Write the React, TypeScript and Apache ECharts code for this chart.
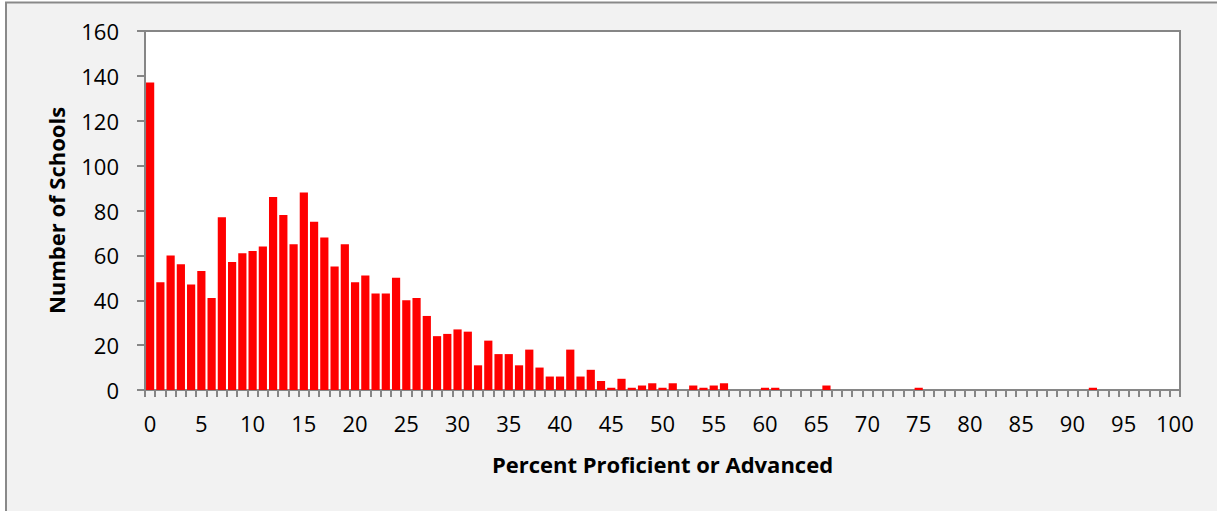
import React, { useEffect, useRef } from "react";
import * as echarts from "echarts";

const categories: string[] = Array.from({ length: 101 }, (_, i) => String(i));

const schoolCounts: number[] = [
  137, 48, 60, 56, 47, 53, 41, 77, 57, 61,
  62, 64, 86, 78, 65, 88, 75, 68, 55, 65,
  48, 51, 43, 43, 50, 40, 41, 33, 24, 25,
  27, 26, 11, 22, 16, 16, 11, 18, 10, 6,
  6, 18, 6, 9, 4, 1, 5, 1, 2, 3,
  1, 3, 0, 2, 1, 2, 3, 0, 0, 0,
  1, 1, 0, 0, 0, 0, 2, 0, 0, 0,
  0, 0, 0, 0, 0, 1, 0, 0, 0, 0,
  0, 0, 0, 0, 0, 0, 0, 0, 0, 0,
  0, 0, 1, 0, 0, 0, 0, 0, 0, 0,
  0,
];

const yMin = 0;
const yMax = 160;
const yStep = 20;

const xTitle = "Percent Proficient or Advanced";
const yTitle = "Number of Schools";

const FONT = "'Open Sans', 'Noto Sans', sans-serif";
const AXIS_GRAY = "#868686";

export default function App() {
  const ref = useRef<HTMLDivElement>(null);

  useEffect(() => {
    if (!ref.current) return;
    const chart = echarts.init(ref.current, undefined, { renderer: "svg" });
    chart.setOption({
      animation: false,
      backgroundColor: "#ffffff",
      textStyle: { fontFamily: FONT },
      graphic: [
        {
          type: "rect",
          z: -100,
          silent: true,
          shape: { x: 6, y: 2.5, width: 1300, height: 600 },
          style: { fill: "#f2f2f2", stroke: "#898989", lineWidth: 2 },
        },
      ],
      grid: {
        left: 145,
        right: 37,
        top: 31,
        bottom: 121,
        show: true,
        backgroundColor: "#ffffff",
        borderColor: AXIS_GRAY,
        borderWidth: 2,
        z: 0,
      },
      xAxis: {
        type: "category",
        data: categories,
        boundaryGap: true,
        name: xTitle,
        nameLocation: "middle",
        nameGap: 63,
        nameTextStyle: {
          fontFamily: FONT,
          fontWeight: "bold",
          fontSize: 22,
          color: "#000000",
        },
        axisLine: { show: true, lineStyle: { color: AXIS_GRAY, width: 2 } },
        axisTick: {
          show: true,
          interval: 0,
          alignWithLabel: false,
          length: 7,
          lineStyle: { color: AXIS_GRAY, width: 2 },
        },
        axisLabel: {
          interval: 4,
          margin: 22,
          fontSize: 22,
          fontFamily: FONT,
          color: "#000000",
        },
        splitLine: { show: false },
      },
      yAxis: {
        type: "value",
        min: yMin,
        max: yMax,
        interval: yStep,
        name: yTitle,
        nameLocation: "middle",
        nameGap: 78,
        nameRotate: 90,
        nameTextStyle: {
          fontFamily: FONT,
          fontWeight: "bold",
          fontSize: 22,
          color: "#000000",
        },
        axisLine: { show: true, lineStyle: { color: AXIS_GRAY, width: 2 } },
        axisTick: {
          show: true,
          inside: false,
          length: 8,
          lineStyle: { color: AXIS_GRAY, width: 2 },
        },
        axisLabel: {
          margin: 26,
          fontSize: 22,
          fontFamily: FONT,
          color: "#000000",
        },
        splitLine: { show: false },
      },
      series: [
        {
          type: "bar",
          data: schoolCounts,
          barCategoryGap: "20%",
          itemStyle: {
            color: "#ff0000",
          },
        },
      ],
    });
    return () => chart.dispose();
  }, []);

  return (
    <div
      ref={ref}
      style={{ position: "fixed", left: 0, top: 0, width: 1217, height: 511 }}
    />
  );
}
